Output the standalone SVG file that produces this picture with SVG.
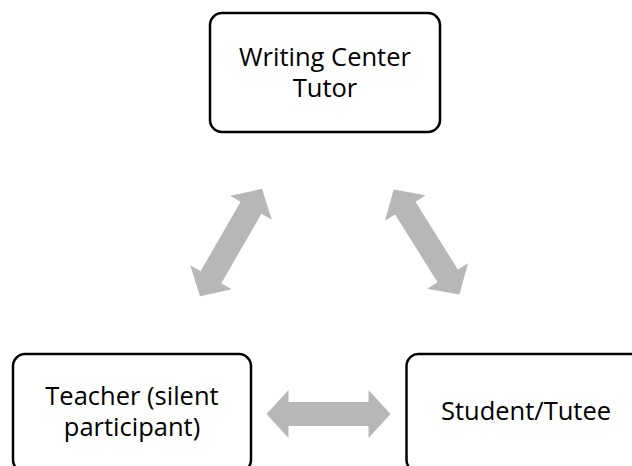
<svg xmlns="http://www.w3.org/2000/svg" width="632" height="466" viewBox="0 0 632 466">
  <style>
    .box { fill: #ffffff; stroke: #000000; stroke-width: 2.5; }
    .lbl { font-family: "Open Sans", "Liberation Sans", sans-serif; font-size: 25.5px; fill: #000000; text-anchor: middle; }
    .arr { fill: #b7b7b7; stroke: none; }
  </style>
  <defs>
    <path id="dblarrow" d="M-62,0 L-40,-24 L-40,-12 L40,-12 L40,-24 L62,0 L40,24 L40,12 L-40,12 L-40,24 Z"/>
  </defs>
  <rect width="632" height="466" fill="#ffffff"/>
  <g id="connectors">
    <use href="#dblarrow" class="arr" transform="translate(231,242.5) rotate(-60)"/>
    <use href="#dblarrow" class="arr" transform="translate(426.5,242) rotate(58)"/>
    <use href="#dblarrow" class="arr" transform="translate(328.5,414)"/>
  </g>
  <g id="tutor">
    <rect class="box" x="210" y="13" width="230" height="119" rx="12"/>
    <text class="lbl" x="325" y="66">Writing Center</text>
    <text class="lbl" x="325" y="97">Tutor</text>
  </g>
  <g id="teacher">
    <rect class="box" x="13" y="354" width="238" height="118" rx="12"/>
    <text class="lbl" x="132" y="405">Teacher (silent</text>
    <text class="lbl" x="132" y="436">participant)</text>
  </g>
  <g id="student">
    <rect class="box" x="406.5" y="354" width="240" height="118" rx="12"/>
    <text class="lbl" x="526" y="420">Student/Tutee</text>
  </g>
</svg>
